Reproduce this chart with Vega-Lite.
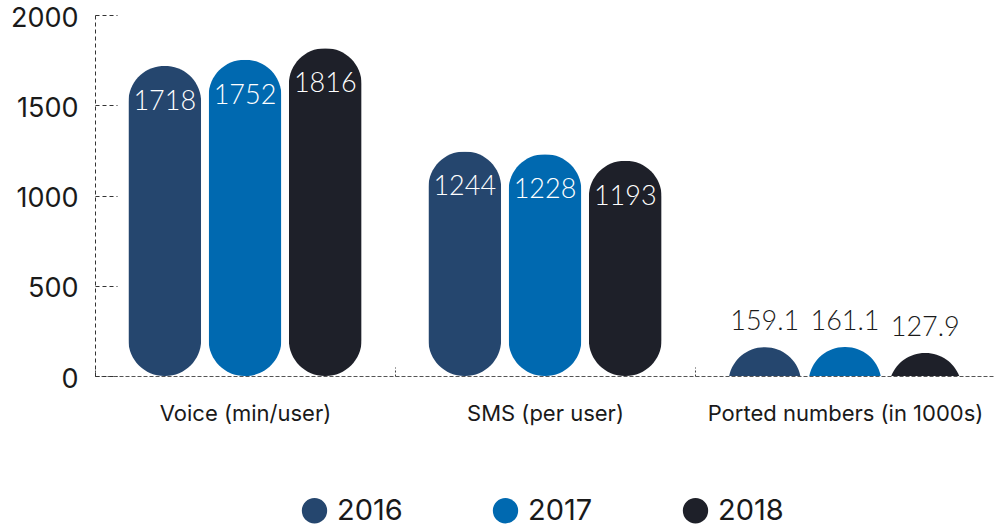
{
  "$schema": "https://vega.github.io/schema/vega-lite/v6.json",
  "width": 900,
  "height": 361,
  "autosize": {"type": "none"},
  "padding": {"left": 95, "top": 15, "right": 0, "bottom": 155},
  "config": {
    "view": {"stroke": null},
    "font": "Inter",
    "axis": {"labelColor": "#1a1a1a", "labelFont": "Inter", "labelFontWeight": "normal"}
  },
  "data": {
    "values": [
      {"category": "Voice (min/user)", "year": "2016", "value": 1718},
      {"category": "Voice (min/user)", "year": "2017", "value": 1752},
      {"category": "Voice (min/user)", "year": "2018", "value": 1816},
      {"category": "SMS (per user)", "year": "2016", "value": 1244},
      {"category": "SMS (per user)", "year": "2017", "value": 1228},
      {"category": "SMS (per user)", "year": "2018", "value": 1193},
      {"category": "Ported numbers (in 1000s)", "year": "2016", "value": 159.1},
      {"category": "Ported numbers (in 1000s)", "year": "2017", "value": 161.1},
      {"category": "Ported numbers (in 1000s)", "year": "2018", "value": 127.9}
    ]
  },
  "encoding": {
    "x": {
      "field": "category",
      "type": "nominal",
      "sort": null,
      "scale": {"paddingInner": 0, "paddingOuter": 0},
      "axis": {
        "title": null,
        "labelAngle": 0,
        "labelFontSize": 22,
        "labelPadding": 36,
        "tickBand": "extent",
        "tickSize": -9,
        "tickDash": [2, 2],
        "tickColor": "#444",
        "domainDash": [4, 2],
        "domainColor": "#555",
        "labelLimit": 400
      }
    },
    "xOffset": {
      "field": "year",
      "type": "nominal",
      "scale": {"paddingInner": 0.093, "paddingOuter": 0.416}
    },
    "y": {
      "field": "value",
      "type": "quantitative",
      "scale": {"domain": [0, 2000]},
      "axis": {
        "title": null,
        "values": [0, 500, 1000, 1500, 2000],
        "format": "d",
        "labelFontSize": 27,
        "labelPadding": 39,
        "labelOffset": 3,
        "tickSize": -22,
        "tickDash": [4, 3],
        "tickColor": "#333",
        "domainDash": [4, 3],
        "domainColor": "#333",
        "grid": false
      }
    },
    "color": {
      "field": "year",
      "type": "nominal",
      "scale": {"domain": ["2016", "2017", "2018"], "range": ["#25466E", "#0069B0", "#1E2029"]},
      "legend": {
        "title": null,
        "orient": "none",
        "direction": "horizontal",
        "legendX": 205,
        "legendY": 481,
        "symbolType": "circle",
        "symbolSize": 640,
        "symbolStrokeWidth": 0,
        "symbolOpacity": 1,
        "labelFontSize": 29,
        "labelColor": "#1a1a1a",
        "labelFont": "Inter",
        "labelFontWeight": "normal",
        "columnPadding": 88,
        "labelOffset": 8
      }
    }
  },
  "layer": [
    {
      "transform": [{"filter": "datum.value > 500"}],
      "mark": {"type": "bar", "cornerRadius": 36, "opacity": 1}
    },
    {
      "transform": [{"filter": "datum.value <= 500"}],
      "mark": {"type": "bar", "cornerRadius": 36, "opacity": 1, "clip": true},
      "encoding": {"y2": {"datum": -400}}
    },
    {
      "transform": [{"filter": "datum.value > 500"}],
      "mark": {"type": "text", "baseline": "middle", "dy": 36, "fontSize": 27, "font": "Lato", "fontWeight": 300},
      "encoding": {"text": {"field": "value", "type": "quantitative", "format": "d"}, "color": {"value": "white"}}
    },
    {
      "transform": [{"filter": "datum.value <= 500"}],
      "mark": {"type": "text", "baseline": "middle", "dy": -25, "fontSize": 27, "font": "Lato", "fontWeight": 300},
      "encoding": {"text": {"field": "value", "type": "quantitative", "format": ".1f"}, "color": {"value": "#1a1a1a"}}
    }
  ]
}
